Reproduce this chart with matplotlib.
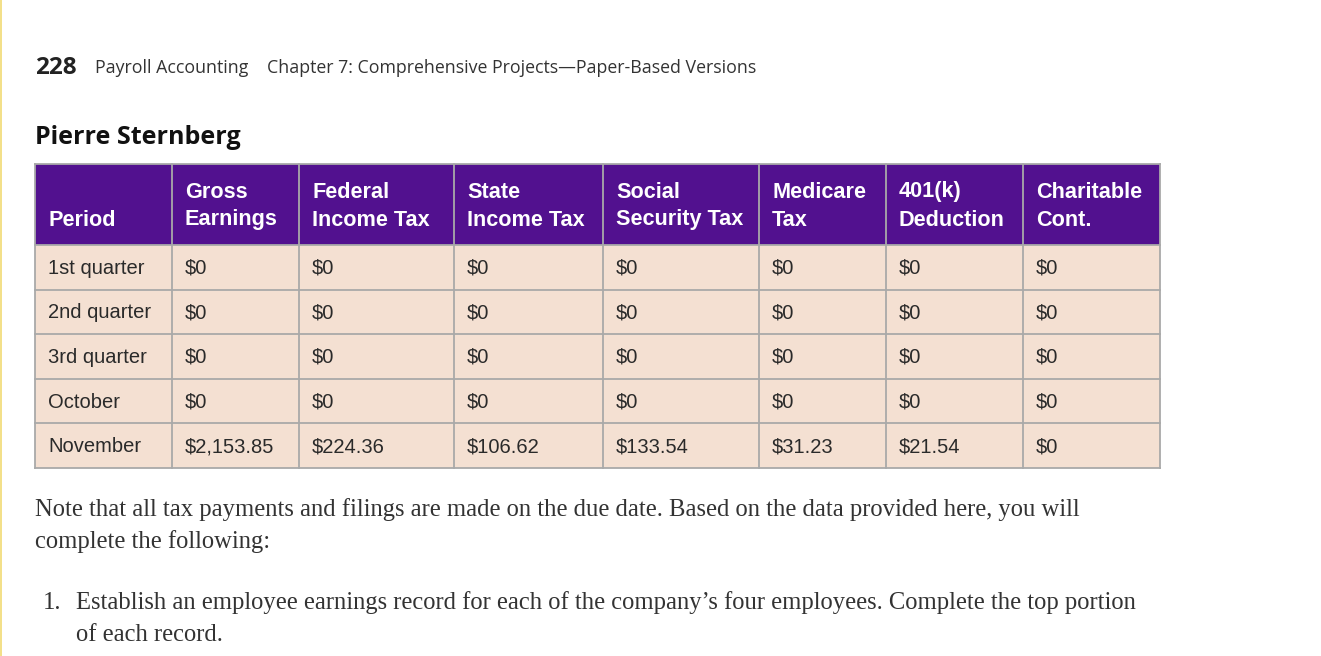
import matplotlib.pyplot as plt
from matplotlib.patches import Rectangle

# table data
periods = ["1st quarter", "2nd quarter", "3rd quarter", "October", "November"]
headers = [("", "Period"), ("Gross", "Earnings"), ("Federal", "Income Tax"),
           ("State", "Income Tax"), ("Social", "Security Tax"), ("Medicare", "Tax"),
           ("401(k)", "Deduction"), ("Charitable", "Cont.")]
gross = ["$0", "$0", "$0", "$0", "$2,153.85"]
federal = ["$0", "$0", "$0", "$0", "$224.36"]
state = ["$0", "$0", "$0", "$0", "$106.62"]
social = ["$0", "$0", "$0", "$0", "$133.54"]
medicare = ["$0", "$0", "$0", "$0", "$31.23"]
k401 = ["$0", "$0", "$0", "$0", "$21.54"]
charity = ["$0", "$0", "$0", "$0", "$0"]

cols = [periods, gross, federal, state, social, medicare, k401, charity]

# layout (pixels)
W, H = 1321, 656
col_edges = [35, 172, 299, 454, 603, 759, 886, 1023, 1160]
head_top, head_bot = 164, 245
row_h = 44.6

purple = "#52118f"
peach = "#f4e0d2"
grid = "#a9a9a9"

fig = plt.figure(figsize=(W / 100, H / 100), dpi=100)
ax = fig.add_axes([0, 0, 1, 1])
ax.set_xlim(0, W)
ax.set_ylim(H, 0)
ax.axis("off")

# faint yellow page edge
ax.add_patch(Rectangle((0, 0), 2, H, color="#f3e08a", lw=0))

# page header
ax.text(35, 68, "228", fontsize=17.5, fontweight="bold", family="Open Sans",
        color="#222222", va="center")
ax.text(95, 68, "Payroll Accounting", fontsize=12.8, family="Open Sans",
        color="#333333", va="center")
ax.text(267, 68, "Chapter 7: Comprehensive Projects\u2014Paper-Based Versions",
        fontsize=12.8, family="Open Sans", color="#333333", va="center")

ax.text(35, 138, "Pierre Sternberg", fontsize=18, fontweight="bold",
        family="Open Sans", color="#111111", va="center")

# header row
ax.add_patch(Rectangle((col_edges[0], head_top), col_edges[-1] - col_edges[0],
                       head_bot - head_top, facecolor=purple, edgecolor="none"))
for i, (l1, l2) in enumerate(headers):
    x = col_edges[i] + 13
    if l1:
        ax.text(x, 192, l1, fontsize=15.6, fontweight="bold", family="Liberation Sans",
                color="white", va="center")
    ax.text(x, 220, l2, fontsize=15.6, fontweight="bold", family="Liberation Sans",
            color="white", va="center")

# body
n = len(periods)
ax.add_patch(Rectangle((col_edges[0], head_bot), col_edges[-1] - col_edges[0],
                       n * row_h, facecolor=peach, edgecolor="none"))
for j in range(n):
    yc = head_bot + (j + 0.5) * row_h + 1
    for i, c in enumerate(cols):
        ax.text(col_edges[i] + 13, yc, c[j], fontsize=14.5, family="Liberation Sans",
                color="#2a2a2a", va="center")

# grid lines
bottom = head_bot + n * row_h
for x in col_edges:
    ax.plot([x, x], [head_top, bottom], color=grid, lw=1.3)
for y in [head_top, head_bot] + [head_bot + (j + 1) * row_h for j in range(n)]:
    ax.plot([col_edges[0], col_edges[-1]], [y, y], color=grid, lw=1.3)

# paragraph text
serif = "Liberation Serif"
fs = 17.7
ax.text(35, 510, "Note that all tax payments and filings are made on the due date. "
        "Based on the data provided here, you will", fontsize=fs, family=serif,
        color="#333333", va="center")
ax.text(35, 542, "complete the following:", fontsize=fs, family=serif,
        color="#333333", va="center")
ax.text(43, 603, "1.", fontsize=fs, family=serif, color="#333333", va="center")
ax.text(76, 603, "Establish an employee earnings record for each of the company\u2019s "
        "four employees. Complete the top portion", fontsize=fs, family=serif,
        color="#333333", va="center")
ax.text(76, 635, "of each record.", fontsize=fs, family=serif, color="#333333",
        va="center")

plt.savefig("out.png", dpi=100)
